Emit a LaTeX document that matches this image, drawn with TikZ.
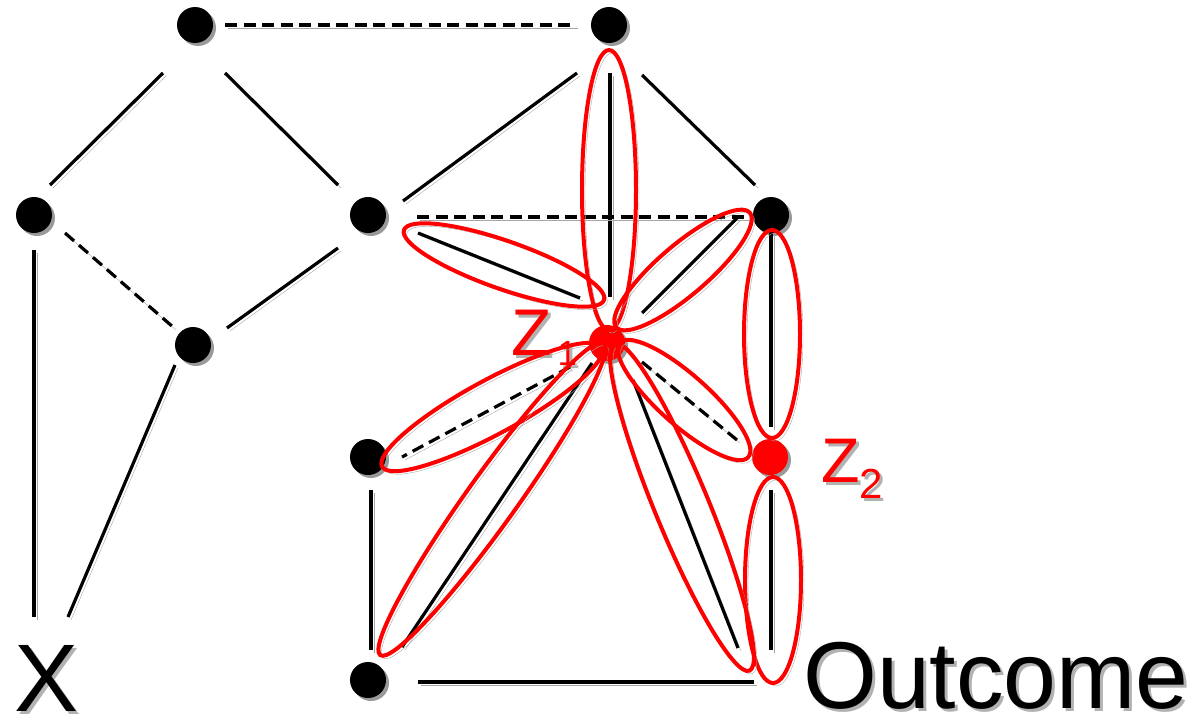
\documentclass[tikz,border=0pt]{standalone}
\usepackage{fontspec}
\setmainfont{Liberation Sans}
\usetikzlibrary{calc,shadows}
\newcommand\shtxt[1]{\leavevmode\rlap{\kern3pt\raisebox{-3pt}{\color{black!30}#1}}#1}
\begin{document}
\begin{tikzpicture}[x=1pt,y=-1pt,
  sh/.style={preaction={draw=black!35,transform canvas={shift={(3pt,-3pt)}}}},
  ln/.style={draw=black,line width=3.2pt,sh},
  dln/.style={ln,dash pattern=on 12pt off 6.5pt},
  vx/.style={circle,fill=black,minimum size=36pt,inner sep=0pt,
    drop shadow={shadow xshift=3pt,shadow yshift=-3pt,fill=black!40,opacity=1}},
  rvx/.style={vx,fill=red},
  ell/.style={draw=red,line width=4pt,sh},
  lbl/.style={anchor=base west,inner sep=0pt}]
\useasboundingbox (0,0) rectangle (1196,720);
% vertices
\node[vx]  (A)  at (195,25)  {};
\node[vx]  (B)  at (609,25)  {};
\node[vx]  (C)  at (34,215)  {};
\node[vx]  (D)  at (368,215) {};
\node[vx]  (E)  at (771,215) {};
\node[vx]  (F)  at (193,345) {};
\node[rvx] (Z1) at (607,343) {};
\node[vx]  (G)  at (368,457) {};
\node[rvx] (Z2) at (770,457) {};
\node[vx]  (H)  at (368,680) {};
% text labels
\node[lbl] (X) at (14,711) {\shtxt{\fontsize{96}{96}\selectfont X}};
\node[lbl] (Out) at (803,708) {\shtxt{\fontsize{95}{95}\selectfont Outcome}};
\node[lbl,text=red] (lZ1) at (511,355) {\shtxt{\fontsize{66}{66}\selectfont Z\kern6pt\raisebox{-10pt}{\fontsize{35}{35}\selectfont 1}}};
\node[lbl,text=red] (lZ2) at (821,482) {\shtxt{\fontsize{63}{63}\selectfont Z\raisebox{-16pt}{\fontsize{42}{42}\selectfont 2}}};
% connectors
\draw[dln] ($(A)+(30,0)$) -- ($(B)+(-34,0)$);
\draw[ln]  ($(A)+(-32,48)$) -- ($(C)+(16,-30)$);
\draw[ln]  ($(A)+(30,48)$) -- ($(D)+(-30,-30)$);
\draw[ln]  ($(B)+(-32,48)$) -- ($(D)+(35,-14)$);
\draw[ln]  ($(B)+(33,50)$) -- ($(E)+(-16,-30)$);
\draw[ln]  ($(B)+(1,48)$) -- ($(Z1)+(3,-46)$);
\draw[dln] ($(C)+(31,18)$) -- ($(F)+(-20,-18)$);
\draw[ln]  ($(C)+(0,35)$) -- ($(X.base west)+(20,-94)$);
\draw[ln]  ($(F)+(-18,20)$) -- ($(X.base west)+(54,-94)$);
\draw[ln]  ($(D)+(-30,33)$) -- ($(F)+(34,-17)$);
\draw[dln] ($(D)+(49,2)$) -- ($(E)+(-23,2)$);
\draw[ln]  ($(D)+(50,18)$) -- ($(Z1)+(-27,-45)$);
\draw[ln]  ($(E)+(-34,3)$) -- ($(Z1)+(35,-30)$);
\draw[ln]  ($(E)+(0,18)$) -- ($(Z2)+(1,-30)$);
\draw[dln] ($(Z1)+(-37,24)$) -- ($(G)+(34,0)$);
\draw[dln] ($(Z1)+(35,19)$) -- ($(Z2)+(-33,-17)$);
\draw[ln]  ($(Z1)+(-15,20)$) -- ($(H)+(34,-33)$);
\draw[ln]  ($(Z1)+(26,37)$) -- ($(Out.base west)+(-65,-60)$);
\draw[ln]  ($(Z2)+(1,33)$) -- ($(Out.base west)+(-32,-58)$);
\draw[ln]  ($(G)+(3,33)$) -- ($(H)+(3,-30)$);
\draw[ln]  ($(H)+(50,2)$) -- ($(Out.base west)+(-49,-26)$);
% highlighted edges
\draw[ell] (609,190) ellipse [x radius=27, y radius=140];
\draw[ell] (504,265) ellipse [x radius=106, y radius=24, rotate=-19.3];
\draw[ell] (683,270) ellipse [x radius=88, y radius=25, rotate=40.6];
\draw[ell] (772,334) ellipse [x radius=28, y radius=104];
\draw[ell] (773,580) ellipse [x radius=28, y radius=103];
\draw[ell] (492,407) ellipse [x radius=125, y radius=27, rotate=28.5];
\draw[ell] (492,499) ellipse [x radius=192, y radius=25, rotate=54.4];
\draw[ell] (682,507) ellipse [x radius=177, y radius=27, rotate=-67.6];
\draw[ell] (684,400) ellipse [x radius=86, y radius=25, rotate=-41.7];
\end{tikzpicture}
\end{document}
